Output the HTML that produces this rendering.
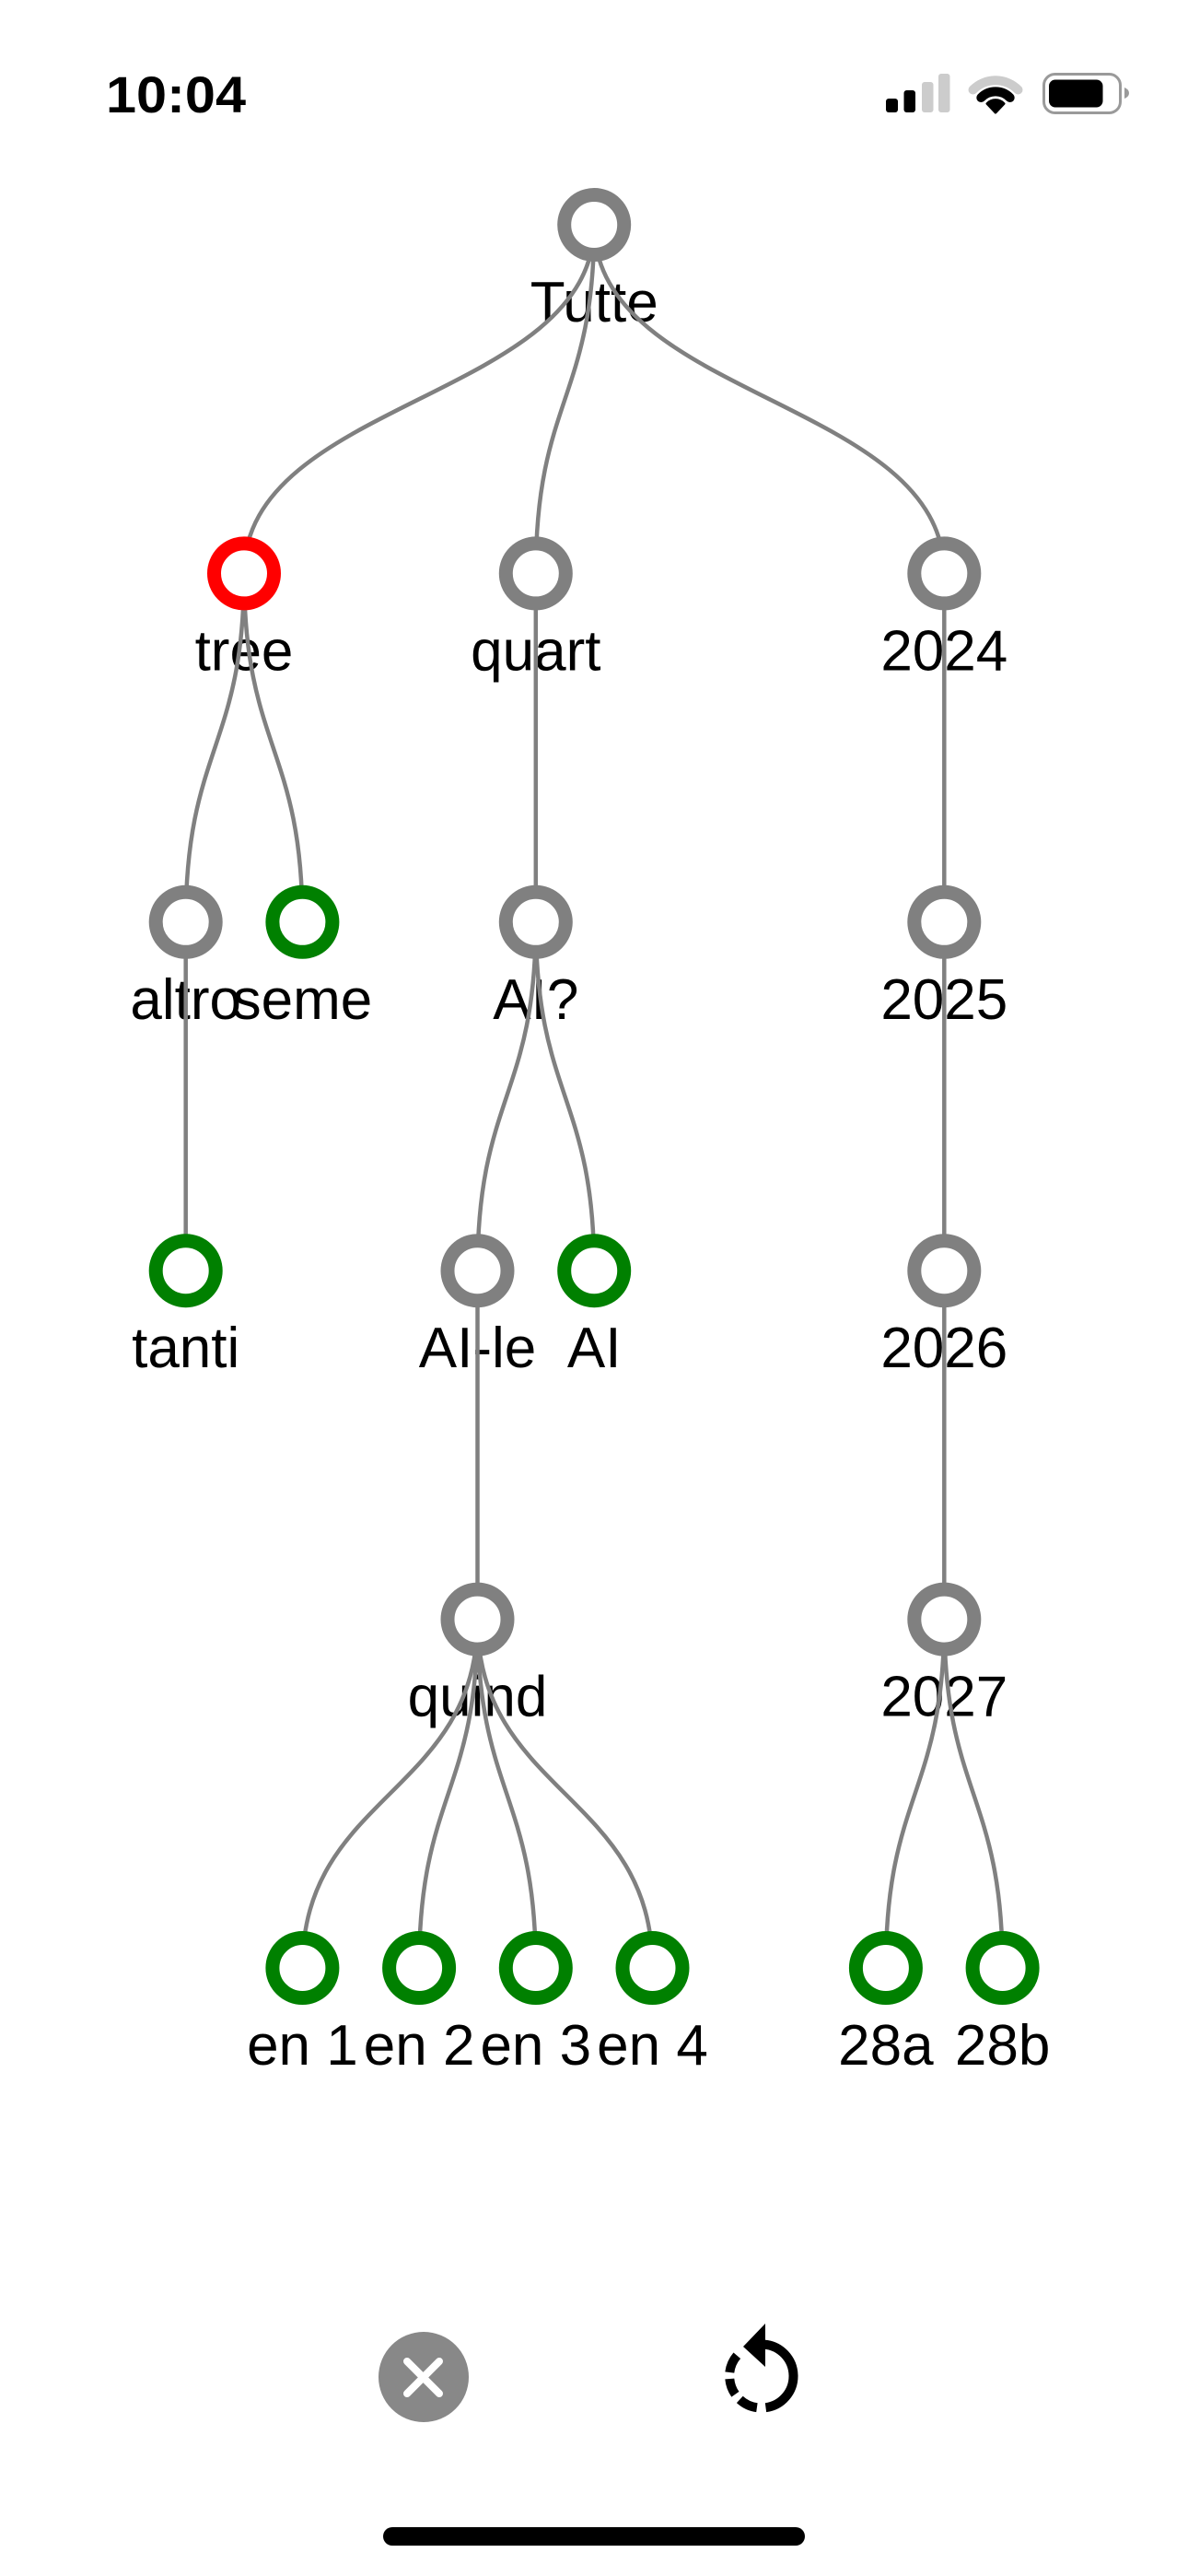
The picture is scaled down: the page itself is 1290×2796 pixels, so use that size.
<!DOCTYPE html>
<html>
<head>
<meta charset="utf-8">
<style>
  html, body { margin: 0; padding: 0; background: #ffffff; }
  body { width: 1290px; height: 2796px; overflow: hidden; }
  svg { display: block; }
  .lbl { font-family: "Liberation Sans", Arial, sans-serif; font-size: 62px; fill: #000; text-anchor: middle; }
</style>
</head>
<body>
<svg width="1290" height="2796" viewBox="0 0 1290 2796" xmlns="http://www.w3.org/2000/svg">
  <rect x="0" y="0" width="1290" height="2796" fill="#ffffff"/>

  <!-- Status bar -->
  <text x="115" y="122" font-family="Liberation Sans, Arial, sans-serif" font-weight="bold" font-size="56" textLength="152" lengthAdjust="spacingAndGlyphs" fill="#000">10:04</text>
  <!-- signal -->
  <rect x="962" y="107" width="13" height="15" rx="3" fill="#000"/>
  <rect x="981.5" y="98" width="12.5" height="24" rx="3" fill="#000"/>
  <rect x="1001" y="89" width="12.5" height="33" rx="3" fill="#cccccc"/>
  <rect x="1019" y="80" width="12.5" height="42" rx="3" fill="#cccccc"/>
  <!-- wifi -->
  <path d="M1056.5,97.5 A34.5,34.5 0 0 1 1105.5,97.5" fill="none" stroke="#cccccc" stroke-width="10" stroke-linecap="round"/>
  <path d="M1065.3,106 A22,22 0 0 1 1096.7,106" fill="none" stroke="#000" stroke-width="10" stroke-linecap="round"/>
  <path d="M1081,122 L1072,112.5 A12.5,12.5 0 0 1 1090,112.5 Z" fill="#000" stroke="#000" stroke-width="3" stroke-linejoin="round"/>
  <!-- battery -->
  <rect x="1133.5" y="80.5" width="83" height="42" rx="12" fill="none" stroke="#9a9a9a" stroke-width="3"/>
  <rect x="1139" y="86.5" width="58.5" height="30" rx="7" fill="#000"/>
  <path d="M1221,95 Q1226,97 1226,101 Q1226,105 1221,107 Z" fill="#9a9a9a"/>

  <!-- Labels -->
  <g class="lbl">
    <text class="lbl" x="645.2" y="349">Tutte</text>
    <text class="lbl" x="265" y="727.4">tree</text>
    <text class="lbl" x="581.8" y="727.4">quart</text>
    <text class="lbl" x="1025.3" y="727.4">2024</text>
    <text class="lbl" x="201.7" y="1105.8">altro</text>
    <text class="lbl" x="328.4" y="1105.8">seme</text>
    <text class="lbl" x="581.8" y="1105.8">AI?</text>
    <text class="lbl" x="1025.3" y="1105.8">2025</text>
    <text class="lbl" x="201.7" y="1484.2">tanti</text>
    <text class="lbl" x="518.5" y="1484.2">AI-le</text>
    <text class="lbl" x="645.2" y="1484.2">AI</text>
    <text class="lbl" x="1025.3" y="1484.2">2026</text>
    <text class="lbl" x="518.5" y="1862.6">quind</text>
    <text class="lbl" x="1025.3" y="1862.6">2027</text>
    <text class="lbl" x="328.4" y="2241">en 1</text>
    <text class="lbl" x="455.1" y="2241">en 2</text>
    <text class="lbl" x="581.8" y="2241">en 3</text>
    <text class="lbl" x="708.5" y="2241">en 4</text>
    <text class="lbl" x="961.9" y="2241">28a</text>
    <text class="lbl" x="1088.6" y="2241">28b</text>
  </g>

  <!-- Links -->
  <g fill="none" stroke="#808080" stroke-width="4.5">
    <path d="M645.2,244 C645.2,433.2 265,433.2 265,622.4"/>
    <path d="M645.2,244 C645.2,433.2 581.8,433.2 581.8,622.4"/>
    <path d="M645.2,244 C645.2,433.2 1025.3,433.2 1025.3,622.4"/>
    <path d="M265,622.4 C265,811.6 201.7,811.6 201.7,1000.8"/>
    <path d="M265,622.4 C265,811.6 328.4,811.6 328.4,1000.8"/>
    <path d="M581.8,622.4 L581.8,1000.8"/>
    <path d="M1025.3,622.4 L1025.3,1000.8"/>
    <path d="M201.7,1000.8 L201.7,1379.2"/>
    <path d="M581.8,1000.8 C581.8,1190 518.5,1190 518.5,1379.2"/>
    <path d="M581.8,1000.8 C581.8,1190 645.2,1190 645.2,1379.2"/>
    <path d="M1025.3,1000.8 L1025.3,1379.2"/>
    <path d="M518.5,1379.2 L518.5,1757.6"/>
    <path d="M1025.3,1379.2 L1025.3,1757.6"/>
    <path d="M518.5,1757.6 C518.5,1946.8 328.4,1946.8 328.4,2136"/>
    <path d="M518.5,1757.6 C518.5,1946.8 455.1,1946.8 455.1,2136"/>
    <path d="M518.5,1757.6 C518.5,1946.8 581.8,1946.8 581.8,2136"/>
    <path d="M518.5,1757.6 C518.5,1946.8 708.5,1946.8 708.5,2136"/>
    <path d="M1025.3,1757.6 C1025.3,1946.8 961.9,1946.8 961.9,2136"/>
    <path d="M1025.3,1757.6 C1025.3,1946.8 1088.6,1946.8 1088.6,2136"/>
  </g>

  <!-- Nodes -->
  <g fill="#ffffff" stroke-width="15">
    <circle cx="645.2" cy="244" r="32.5" stroke="#808080"/>
    <circle cx="265" cy="622.4" r="32.5" stroke="#ff0000"/>
    <circle cx="581.8" cy="622.4" r="32.5" stroke="#808080"/>
    <circle cx="1025.3" cy="622.4" r="32.5" stroke="#808080"/>
    <circle cx="201.7" cy="1000.8" r="32.5" stroke="#808080"/>
    <circle cx="328.4" cy="1000.8" r="32.5" stroke="#008000"/>
    <circle cx="581.8" cy="1000.8" r="32.5" stroke="#808080"/>
    <circle cx="1025.3" cy="1000.8" r="32.5" stroke="#808080"/>
    <circle cx="201.7" cy="1379.2" r="32.5" stroke="#008000"/>
    <circle cx="518.5" cy="1379.2" r="32.5" stroke="#808080"/>
    <circle cx="645.2" cy="1379.2" r="32.5" stroke="#008000"/>
    <circle cx="1025.3" cy="1379.2" r="32.5" stroke="#808080"/>
    <circle cx="518.5" cy="1757.6" r="32.5" stroke="#808080"/>
    <circle cx="1025.3" cy="1757.6" r="32.5" stroke="#808080"/>
    <circle cx="328.4" cy="2136" r="32.5" stroke="#008000"/>
    <circle cx="455.1" cy="2136" r="32.5" stroke="#008000"/>
    <circle cx="581.8" cy="2136" r="32.5" stroke="#008000"/>
    <circle cx="708.5" cy="2136" r="32.5" stroke="#008000"/>
    <circle cx="961.9" cy="2136" r="32.5" stroke="#008000"/>
    <circle cx="1088.6" cy="2136" r="32.5" stroke="#008000"/>
  </g>

  <!-- Bottom controls -->
  <circle cx="460" cy="2580" r="49" fill="#888888"/>
  <path d="M442,2563 L477,2598 M477,2563 L442,2598" stroke="#ffffff" stroke-width="8" stroke-linecap="round"/>

  <!-- refresh (counterclockwise dashed) -->
  <g fill="none" stroke="#000" stroke-width="10">
    <path d="M829.7,2544.6 A34.5,34.5 0 0 1 831.5,2613.2"/>
    <path d="M821.9,2613.2 A34.5,34.5 0 0 1 803.3,2604.4"/>
    <path d="M798.4,2598.8 A34.5,34.5 0 0 1 792.3,2582"/>
    <path d="M792.3,2575 A34.5,34.5 0 0 1 800.3,2556.8"/>
  </g>
  <path d="M831,2522 L831,2569 L807,2547 Z" fill="#000"/>

  <!-- home indicator -->
  <rect x="416" y="2743" width="458" height="20" rx="10" fill="#000"/>
</svg>
</body>
</html>
